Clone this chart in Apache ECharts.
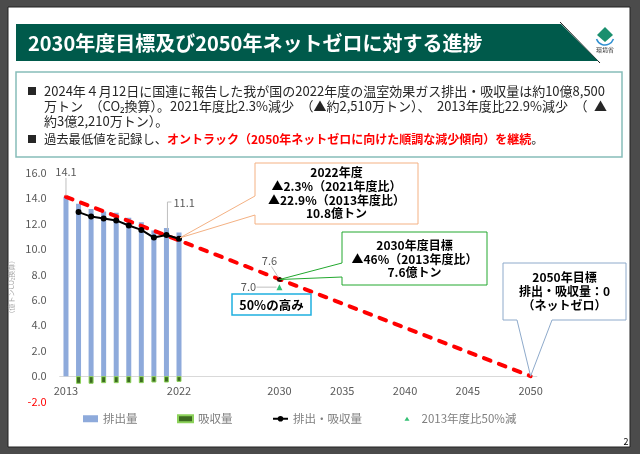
<!DOCTYPE html>
<html><head><meta charset="utf-8">
<script src="https://cdn.jsdelivr.net/npm/echarts@6/dist/echarts.min.js"></script>
<style>html,body{margin:0;padding:0;background:#4b4b4b}#c{width:640px;height:454px}</style>
</head><body><div id="c"></div>
<script>
const years = ['2013','2014','2015','2016','2017','2018','2019','2020','2021','2022','2023','2024','2025','2026','2027','2028','2029','2030','2031','2032','2033','2034','2035','2036','2037','2038','2039','2040','2041','2042','2043','2044','2045','2046','2047','2048','2049','2050'];
const shownYears = ['2013','2022','2030','2035','2040','2045','2050'];
const histYears = ['2013','2014','2015','2016','2017','2018','2019','2020','2021','2022'];
const emissions = [14.1, 13.55, 13.15, 12.95, 12.85, 12.45, 12.1, 11.45, 11.65, 11.3];
const removals  = [null, -0.6, -0.6, -0.55, -0.55, -0.55, -0.55, -0.5, -0.5, -0.45];
const net       = [null, 12.9, 12.55, 12.4, 12.25, 11.85, 11.5, 10.9, 11.1, 10.8];
const pathYears = ['2013', '2050'];
const pathValues = [14.1, 0];
const targetYear = '2030';
const target46 = 7.6;
const target50 = 7.0;
const yTicks = {min: -2, max: 16, interval: 2};

const FONT = '"Noto Sans CJK JP", "Noto Sans", sans-serif';
const chart = echarts.init(document.getElementById('c'), null, {renderer: 'canvas'});

const pair = (ys, vs) => ys.map((y, i) => [y, vs[i]]).filter(d => d[1] !== null);

chart.setOption({
  animation: false,
  backgroundColor: '#4b4b4b',
  textStyle: {fontFamily: FONT},
  grid: {left: 59.7, width: 477.2, top: 172.7, height: 228.9, outerBoundsMode: 'none', containLabel: false},
  xAxis: {
    type: 'category', data: years, boundaryGap: true, position: 'bottom', offset: -25.4,
    axisLine: {onZero: false, lineStyle: {color: '#d9d9d9', width: 1}},
    axisTick: {show: false},
    axisLabel: {
      interval: (i, v) => shownYears.indexOf(v) >= 0,
      color: '#595959', fontSize: 11, margin: 9, fontFamily: FONT
    },
    splitLine: {show: false}
  },
  yAxis: {
    type: 'value', min: yTicks.min, max: yTicks.max, interval: yTicks.interval,
    axisLine: {show: false}, axisTick: {show: false}, splitLine: {show: false},
    axisLabel: {
      formatter: v => v.toFixed(1),
      color: v => (v < 0 ? '#ff0000' : '#595959'),
      fontSize: 11, margin: 13, fontFamily: FONT
    },
    name: '（億トンCO₂換算）', nameLocation: 'middle', nameRotate: 90, nameGap: 45,
    nameTextStyle: {color: '#a6a6a6', fontSize: 7, fontFamily: FONT}
  },
  legend: {
    left: 83, top: 413, padding: 0, itemWidth: 15, itemHeight: 7, itemGap: 39.5,
    textStyle: {color: '#7f7f7f', fontSize: 11.5, fontFamily: FONT},
    data: [
      {name: '排出量', icon: 'rect'},
      {name: '吸収量', icon: 'rect'},
      {name: '排出・吸収量'},
      {name: '2013年度比50%減', icon: 'path://M0,0L0.01,0ZM5.5,1.5L8,5.5L3,5.5ZM15,7L14.99,7Z'}
    ]
  },
  series: [
    {
      name: '排出量', type: 'bar', stack: 'g', barWidth: 5,
      data: pair(histYears, emissions),
      itemStyle: {color: '#8eaadb'}, z: 2
    },
    {
      name: '吸収量', type: 'bar', stack: 'g', barWidth: 5,
      data: pair(histYears, removals),
      itemStyle: {color: '#3d6b21', borderColor: '#8cd25a', borderWidth: 1}, z: 2
    },
    {
      name: 'path', type: 'line', data: pair(pathYears, pathValues),
      symbol: 'none', z: 3,
      lineStyle: {color: '#ff0000', width: 4, type: [7, 9], cap: 'round'}
    },
    {
      name: '排出・吸収量', type: 'line', data: pair(histYears, net),
      symbol: 'circle', symbolSize: 6, z: 5,
      itemStyle: {color: '#000'}, lineStyle: {color: '#000', width: 2}
    },
    {
      name: 'target46', type: 'scatter', data: [[targetYear, target46]],
      symbol: 'circle', symbolSize: 5, z: 6, itemStyle: {color: '#000'}
    },
    {
      name: '2013年度比50%減', type: 'scatter', data: [[targetYear, target50]],
      symbol: 'triangle', symbolSize: 6, z: 6, itemStyle: {color: '#00b050'}
    }
  ]
});

const px = (y, v) => chart.convertToPixel({gridIndex: 0}, [years.indexOf(y), v]);
const pTop2013 = px(histYears[0], emissions[0]);
const p2021 = px(histYears[8], net[8]);
const p2022 = px(histYears[9], net[9]);
const p2030 = px(targetYear, target46);
const p2030h = px(targetYear, target50);
const p2050 = px(pathYears[1], pathValues[1]);

const lblStyle = {fill: '#595959', fontSize: 11, fontFamily: FONT};
const boldTxt = (x, y, t, size) => ({type: 'text', x: x, y: y, z: 60,
  style: {text: t, fill: '#000', fontSize: size || 12, fontWeight: 'bold', fontFamily: FONT, align: 'center', verticalAlign: 'middle'}});
const rich = {
  r: {fill: '#ff0000', fontWeight: 'bold', fontSize: 12, fontFamily: FONT},
};
const bodyTxt = (x, y, parts, size) => ({type: 'text', x: x, y: y, z: 60,
  style: {text: parts, rich: rich, fontSize: size || 13, fill: '#262626', fontFamily: FONT, verticalAlign: 'middle'}});

const g = [
  {type: 'rect', shape: {x: 8, y: 7, width: 622, height: 440}, style: {fill: '#fff', stroke: '#222', lineWidth: 1}, z: -10, silent: true},
  {type: 'polygon', shape: {points: [[16,24],[561,24],[598,61],[16,61]]}, style: {fill: '#005a4b'}, z: 10},
  {type: 'line', shape: {x1: 560, y1: 22, x2: 600, y2: 63}, style: {stroke: '#222', lineWidth: 1}, z: 9},
  {type: 'text', x: 28, y: 43, z: 11, style: {text: '2030年度目標及び2050年ネットゼロに対する進捗', fill: '#fff', fontSize: 20, fontWeight: 'bold', fontFamily: FONT, verticalAlign: 'middle'}},
  {type: 'polygon', shape: {points: [[605,27],[613,35],[605,42],[597,35]]}, style: {fill: '#1a8f6e'}, z: 10},
  {type: 'arc', shape: {cx: 605, cy: 36, r: 9, startAngle: 0.35, endAngle: 2.8}, style: {stroke: '#2f8fd0', lineWidth: 1.5, fill: null}, z: 10},
  {type: 'text', x: 605, y: 50, z: 10, style: {text: '環境省', fill: '#333', fontSize: 6, fontFamily: FONT, align: 'center', verticalAlign: 'middle'}},
  {type: 'rect', shape: {x: 16, y: 72, width: 606, height: 85}, style: {fill: '#fff', stroke: '#86bdb9', lineWidth: 1.5}, z: 10},
  {type: 'text', x: 27, y: 91, z: 60, style: {text: '■', fill: '#262626', fontSize: 10, fontFamily: FONT, verticalAlign: 'middle'}},
  {type: 'text', x: 27, y: 139, z: 60, style: {text: '■', fill: '#262626', fontSize: 10, fontFamily: FONT, verticalAlign: 'middle'}},
  bodyTxt(44, 91, '2024年４月12日に国連に報告した我が国の2022年度の温室効果ガス排出・吸収量は約10億8,500'),
  bodyTxt(44, 106, '万トン\u2002（CO₂換算）。2021年度比2.3%減少\u2002（▲約2,510万トン）、\u20022013年度比22.9%減少\u2002（\u2002▲'),
  bodyTxt(44, 121, '約3億2,210万トン）。'),
  bodyTxt(44, 139, '過去最低値を記録し、{r|オントラック（2050年ネットゼロに向けた順調な減少傾向）を継続}。', 12.3),
  {type: 'text', x: pTop2013[0], y: pTop2013[1] - 25, z: 60, style: Object.assign({text: String(emissions[0]), align: 'center', verticalAlign: 'middle'}, lblStyle)},
  {type: 'polyline', shape: {points: [[pTop2013[0], pTop2013[1] - 19], [pTop2013[0], pTop2013[1] - 1]]}, style: {stroke: '#bfbfbf', lineWidth: 1}, z: 59},
  {type: 'polyline', shape: {points: [[p2021[0] + 1, p2021[1] - 5], [p2021[0] + 1, p2021[1] - 33], [p2021[0] + 5, p2021[1] - 33]]}, style: {stroke: '#bfbfbf', lineWidth: 1}, z: 59},
  {type: 'text', x: p2021[0] + 7, y: p2021[1] - 32, z: 60, style: Object.assign({text: String(net[8]), align: 'left', verticalAlign: 'middle'}, lblStyle)},
  {type: 'text', x: p2030[0] - 10, y: p2030[1] - 19, z: 60, style: Object.assign({text: target46.toFixed(1), align: 'center', verticalAlign: 'middle'}, lblStyle)},
  {type: 'line', shape: {x1: p2030[0] - 8, y1: p2030[1] - 13, x2: p2030[0] - 1, y2: p2030[1] - 2}, style: {stroke: '#bfbfbf', lineWidth: 1}, z: 59},
  {type: 'text', x: p2030h[0] - 31, y: p2030h[1], z: 60, style: Object.assign({text: target50.toFixed(1), align: 'center', verticalAlign: 'middle'}, lblStyle)},
  {type: 'line', shape: {x1: p2030h[0] - 23, y1: p2030h[1], x2: p2030h[0] - 3, y2: p2030h[1]}, style: {stroke: '#bfbfbf', lineWidth: 1}, z: 59},
  {type: 'polygon', shape: {points: [[255,163],[418,163],[418,224],[255,224],[255,215],[p2022[0] + 1, p2022[1] - 1],[255,196]]}, style: {fill: '#fff', stroke: '#f4b183', lineWidth: 1}, z: 50},
  boldTxt(336.5, 172, '2022年度'),
  boldTxt(336.5, 186, '▲2.3%（2021年度比）'),
  boldTxt(336.5, 200, '▲22.9%（2013年度比）'),
  boldTxt(336.5, 213, '10.8億トン'),
  {type: 'polygon', shape: {points: [[342,232],[487,232],[487,285],[342,285],[342,277],[p2030[0], p2030[1]],[342,263]]}, style: {fill: '#fff', stroke: '#22a82e', lineWidth: 1}, z: 50},
  boldTxt(414.5, 245, '2030年度目標'),
  boldTxt(414.5, 259, '▲46%（2013年度比）'),
  boldTxt(414.5, 272, '7.6億トン'),
  {type: 'rect', shape: {x: 232, y: 294, width: 79, height: 21}, style: {fill: '#fff', stroke: '#1fb0e0', lineWidth: 1.5}, z: 50},
  boldTxt(271.5, 305, '50%の高み', 12.5),
  {type: 'polygon', shape: {points: [[503,263],[626,263],[626,320],[552,320],[p2050[0], p2050[1]],[517,320],[503,320]]}, style: {fill: '#fff', stroke: '#8eaacb', lineWidth: 1}, z: 50},
  boldTxt(564.5, 277, '2050年目標'),
  boldTxt(564.5, 291, '排出・吸収量：0'),
  boldTxt(564.5, 305, '（ネットゼロ）'),
  {type: 'text', x: 626, y: 442, z: 60, style: {text: '2', fill: '#000', fontSize: 9, fontFamily: FONT, align: 'center', verticalAlign: 'middle'}}
];
chart.setOption({graphic: g});
</script></body></html>
